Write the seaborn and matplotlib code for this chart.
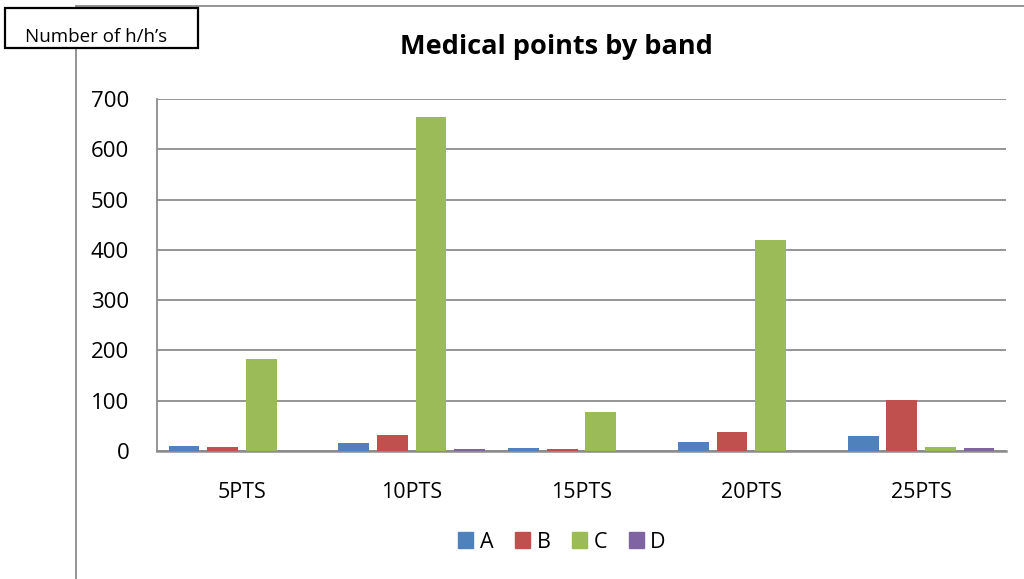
import matplotlib
matplotlib.use("Agg")
import matplotlib.pyplot as plt
import seaborn as sns
import pandas as pd
from matplotlib.patches import Rectangle
from matplotlib.lines import Line2D

# Households per medical-points band, split by group
bands = ["5PTS", "10PTS", "15PTS", "20PTS", "25PTS"]
groups = ["A", "B", "C", "D"]
values_a = [10, 15, 5, 17, 29]
values_b = [7, 32, 3, 38, 101]
values_c = [182, 665, 78, 420, 7]
values_d = [0, 3, 0, 0, 5]
colors = ["#4F81BD", "#C0504D", "#9BBB59", "#8064A2"]

df = pd.DataFrame({
    "band": bands * 4,
    "group": [g for g in groups for _ in bands],
    "count": values_a + values_b + values_c + values_d,
})

sns.set_style("white")
plt.rcParams["font.family"] = ["Open Sans", "DejaVu Sans"]
plt.rcParams["text.color"] = "black"
plt.rcParams["xtick.color"] = "black"
plt.rcParams["ytick.color"] = "black"

fig = plt.figure(figsize=(10.24, 5.79), dpi=100)
ax = fig.add_axes([157 / 1024, 1 - 451 / 579, 849 / 1024, 352 / 579])

sns.barplot(data=df, x="band", y="count", hue="group", order=bands,
            hue_order=groups, palette=colors, width=0.91, gap=0.2,
            saturation=1, ax=ax, legend=False, zorder=3, linewidth=0)

ax.set_ylim(0, 700)
ax.set_xlim(-0.5, 4.5)
ax.set_yticks(range(0, 701, 100))
ax.yaxis.grid(True, color="#8c8c8c", linewidth=1.3, zorder=0)
ax.set_axisbelow(True)
ax.set_xlabel("")
ax.set_ylabel("")
for side in ["top", "right"]:
    ax.spines[side].set_visible(False)
ax.spines["left"].set_color("#8c8c8c")
ax.spines["left"].set_linewidth(1.3)
ax.spines["bottom"].set_color("#8c8c8c")
ax.spines["bottom"].set_linewidth(1.8)
ax.tick_params(axis="y", labelsize=16, length=0, pad=20)
ax.tick_params(axis="x", labelsize=15.5, length=0, pad=22)

fig.text(556 / 1024, 1 - 47 / 579, "Medical points by band", ha="center",
         va="center", fontsize=19.5, fontweight="bold")

# Legend below the plot area
handles = [Rectangle((0, 0), 1, 1, color=c) for c in colors]
fig.legend(handles, groups, loc="center", bbox_to_anchor=(562 / 1024, 1 - 542 / 579),
           ncol=4, frameon=False, fontsize=15.5, handlelength=0.7, handleheight=0.7,
           handletextpad=0.3, columnspacing=1.0)

# Chart frame lines
fig.add_artist(Line2D([76 / 1024, 1.0], [1 - 6 / 579, 1 - 6 / 579],
                      color="#8c8c8c", linewidth=1.3))
fig.add_artist(Line2D([76 / 1024, 76 / 1024], [0, 1 - 6 / 579],
                      color="#8c8c8c", linewidth=1.3))

# Axis caption box; its text is cut off by the box's lower edge
box = Rectangle((5 / 1024, 1 - 48 / 579), 193 / 1024, 40 / 579,
                facecolor="white", edgecolor="black", linewidth=1.6,
                transform=fig.transFigure, zorder=5)
fig.add_artist(box)
caption = fig.text(96 / 1024, 1 - 37 / 579, "Number of h/h\u2019s", ha="center",
                   va="center", fontsize=13.5, zorder=6)
caption.set_clip_path(box)

fig.savefig("out.png", dpi=100)
